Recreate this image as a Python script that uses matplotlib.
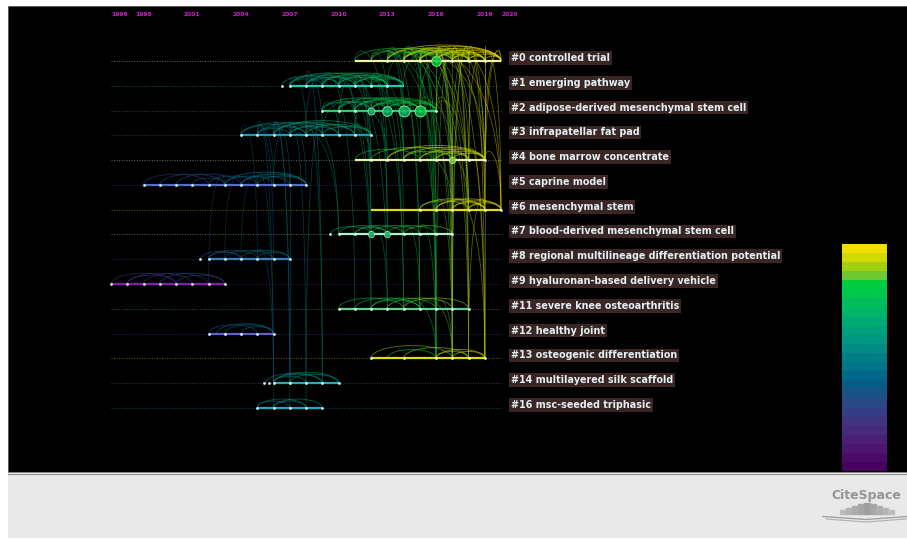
import numpy as np
import matplotlib
matplotlib.use('Agg')
import matplotlib.pyplot as plt
from matplotlib.collections import LineCollection
from matplotlib.colors import ListedColormap
from matplotlib.patches import Rectangle

# timeline view: clusters of co-cited references, 1996-2020

labels = ['#0 controlled trial', '#1 emerging pathway',
          '#2 adipose-derived mesenchymal stem cell', '#3 infrapatellar fat pad',
          '#4 bone marrow concentrate', '#5 caprine model', '#6 mesenchymal stem',
          '#7 blood-derived mesenchymal stem cell',
          '#8 regional multilineage differentiation potential',
          '#9 hyaluronan-based delivery vehicle', '#11 severe knee osteoarthritis',
          '#12 healthy joint', '#13 osteogenic differentiation',
          '#14 multilayered silk scaffold', '#16 msc-seeded triphasic']

start_year = [2011, 2007, 2009, 2004, 2011, 1998, 2012, 2010, 2002, 1996, 2010, 2002, 2012, 2006, 2005]
end_year = [2020, 2014, 2016, 2012, 2019, 2008, 2020, 2017, 2007, 2003, 2018, 2006, 2019, 2010, 2009]
line_colors = ['#f2f2a8', '#18cdb0', '#22d070', '#1a9cb4', '#e8f0b0', '#5070d0', '#e0e000',
               '#b0f0c8', '#3a80c8', '#8020b0', '#60d090', '#6060d0', '#e0e000', '#20b0b0', '#20a8c0']

nodes = [
    [2013, 2014, 2015, 2016, 2017, 2018, 2019],
    [2006.5, 2007, 2008, 2009, 2010, 2011, 2012, 2013],
    [2009, 2010, 2011, 2012, 2013, 2014, 2015, 2016],
    [2004, 2005, 2006, 2007, 2008, 2009, 2010, 2011, 2012],
    [2012, 2013, 2014, 2015, 2016, 2017, 2018, 2019],
    [1998, 1999, 2000, 2001, 2002, 2003, 2004, 2005, 2006, 2007, 2008],
    [2015, 2016, 2017, 2018, 2019, 2020],
    [2009.5, 2010, 2011, 2012, 2013, 2014, 2015, 2016, 2017],
    [2001.5, 2002, 2003, 2004, 2005, 2006, 2007],
    [1996, 1997, 1998, 1999, 2000, 2001, 2002, 2003],
    [2010, 2011, 2012, 2013, 2014, 2015, 2016, 2017, 2018],
    [2002, 2003, 2004, 2005, 2006],
    [2012, 2014, 2016, 2017, 2018, 2019],
    [2005.4, 2005.7, 2006, 2007, 2008, 2009, 2010],
    [2005, 2006, 2007, 2008, 2009],
]

# larger (highly cited) nodes: row, year, marker size
big_nodes = [(0, 2016, 7), (2, 2012, 5), (2, 2013, 7), (2, 2014, 8), (2, 2015, 8),
             (4, 2017, 4.5), (7, 2012, 4.5), (7, 2013, 4.5)]

# co-citation arcs inside a cluster: (start, end)
arcs = [
    [(2011, 2016), (2012, 2017), (2013, 2018), (2013, 2020), (2014, 2019), (2014, 2020),
     (2015, 2018), (2015, 2019), (2015, 2020), (2016, 2019), (2016, 2020), (2016, 2018),
     (2017, 2020), (2017, 2019), (2018, 2020), (2014, 2017), (2015, 2017), (2014, 2018),
     (2013, 2016), (2017, 2018), (2018, 2019), (2019, 2020)],
    [(2006.5, 2010), (2007, 2011), (2007, 2012), (2008, 2013), (2008, 2011), (2009, 2013),
     (2009, 2014), (2010, 2014), (2010, 2013), (2011, 2014), (2007, 2009), (2008, 2010),
     (2011, 2013), (2012, 2014)],
    [(2009, 2014), (2010, 2015), (2011, 2016), (2011, 2015), (2012, 2016), (2012, 2015),
     (2013, 2016), (2013, 2015), (2014, 2016), (2010, 2013), (2012, 2014), (2009, 2012)],
    [(2004, 2008), (2004, 2009), (2005, 2010), (2006, 2011), (2006, 2012), (2007, 2011),
     (2007, 2010), (2008, 2012), (2005, 2008), (2009, 2012), (2005, 2007)],
    [(2011, 2015), (2012, 2017), (2013, 2018), (2013, 2019), (2014, 2019), (2015, 2019),
     (2015, 2018), (2016, 2019), (2014, 2017), (2016, 2018), (2017, 2019)],
    [(1998, 2002), (1999, 2003), (2000, 2004), (2001, 2003), (2003, 2006), (2004, 2008),
     (2004, 2007), (2005, 2008), (2003, 2008), (2002, 2005)],
    [(2015, 2019), (2016, 2020), (2016, 2019), (2017, 2020), (2017, 2019), (2018, 2020),
     (2015, 2018), (2018, 2019)],
    [(2009.5, 2012), (2010, 2013), (2011, 2014), (2012, 2015), (2013, 2016), (2011, 2013),
     (2014, 2017)],
    [(2001.5, 2004), (2002, 2005), (2003, 2006), (2004, 2007), (2002, 2004), (2005, 2007)],
    [(1996, 2000), (1997, 2001), (1998, 2002), (1999, 2003), (1997, 2000), (2000, 2003)],
    [(2010, 2014), (2011, 2015), (2012, 2016), (2013, 2017), (2014, 2018), (2012, 2015)],
    [(2002, 2005), (2002.5, 2006), (2003, 2006), (2004, 2006)],
    [(2012, 2017), (2014, 2018), (2016, 2019), (2017, 2019), (2016, 2018), (2013, 2016)],
    [(2005.5, 2009), (2006, 2010), (2006, 2009), (2007, 2010), (2006, 2008)],
    [(2005, 2008), (2006, 2009), (2006, 2008), (2005, 2007)],
]

# links between clusters: (row a, year a, row b, year b)
cross_links = [
    (0, 2014, 4, 2016), (0, 2015, 4, 2017), (0, 2016, 4, 2018), (0, 2017, 4, 2019),
    (0, 2015, 6, 2018), (0, 2016, 6, 2019), (0, 2017, 6, 2020), (0, 2018, 6, 2019),
    (0, 2016, 12, 2017), (0, 2017, 12, 2018), (0, 2015, 12, 2016), (0, 2018, 12, 2019),
    (0, 2014, 10, 2016), (0, 2013, 10, 2015), (0, 2019, 6, 2020), (0, 2014, 2, 2015),
    (0, 2013, 2, 2014), (0, 2016, 2, 2016), (4, 2016, 6, 2018), (4, 2017, 12, 2017),
    (4, 2018, 12, 2019), (6, 2019, 12, 2018), (2, 2015, 4, 2017), (2, 2014, 4, 2015),
    (0, 2015, 7, 2016), (0, 2016, 10, 2017), (0, 2017, 10, 2018), (0, 2014, 12, 2016),
    (0, 2015, 4, 2015), (0, 2016, 4, 2016), (0, 2018, 4, 2018), (0, 2019, 4, 2019),
    (0, 2017, 6, 2017), (0, 2013, 4, 2014), (0, 2012, 2, 2013), (0, 2016, 7, 2017),
    (0, 2013, 6, 2017), (0, 2014, 6, 2018), (0, 2015, 6, 2020), (0, 2016, 6, 2017),
    (0, 2013, 4, 2017), (0, 2014, 4, 2019), (0, 2018, 4, 2017), (0, 2019, 4, 2018),
    (0, 2017, 12, 2016), (0, 2018, 12, 2017), (0, 2019, 12, 2019), (0, 2016, 12, 2019),
    (0, 2015, 10, 2018), (0, 2018, 10, 2017), (0, 2012, 4, 2016), (0, 2012, 6, 2016),
    (0, 2011, 4, 2013), (0, 2020, 6, 2019), (0, 2020, 4, 2019), (2, 2016, 6, 2018),
    (2, 2015, 12, 2017), (2, 2016, 12, 2018), (2, 2015, 0, 2017), (2, 2016, 0, 2018),
    (1, 2013, 0, 2015), (1, 2014, 0, 2016), (4, 2019, 6, 2020), (4, 2014, 6, 2017),
    (6, 2016, 12, 2017), (6, 2017, 12, 2019), (4, 2016, 10, 2017), (10, 2016, 12, 2017),
    (1, 2009, 2, 2011), (1, 2010, 2, 2012), (1, 2011, 2, 2013), (1, 2012, 4, 2014),
    (1, 2013, 2, 2014), (2, 2012, 7, 2013), (2, 2013, 7, 2014), (2, 2011, 10, 2013),
    (2, 2012, 10, 2014), (3, 2009, 2, 2011), (3, 2010, 1, 2011), (3, 2008, 1, 2009),
    (1, 2008, 3, 2009), (2, 2010, 4, 2013), (7, 2012, 10, 2013), (10, 2014, 12, 2016),
    (10, 2015, 12, 2017), (4, 2015, 10, 2016), (2, 2014, 10, 2015), (1, 2012, 10, 2014),
    (2, 2013, 4, 2014), (1, 2011, 4, 2012), (3, 2011, 2, 2012), (2, 2011, 7, 2012),
    (1, 2010, 4, 2012), (1, 2011, 7, 2012), (1, 2012, 7, 2013), (3, 2010, 4, 2012),
    (3, 2011, 10, 2012), (2, 2010, 10, 2012), (1, 2009, 10, 2011), (3, 2008, 7, 2010),
    (1, 2010, 3, 2011), (2, 2009, 3, 2010), (7, 2014, 10, 2015), (7, 2015, 12, 2016),
    (3, 2005, 5, 2006), (3, 2006, 5, 2007), (3, 2005, 8, 2006), (3, 2007, 13, 2008),
    (3, 2006, 14, 2007), (5, 2007, 13, 2007), (8, 2004, 5, 2005), (3, 2008, 13, 2009),
    (1, 2008, 13, 2009), (3, 2009, 14, 2008), (5, 2003, 9, 2002), (3, 2007, 7, 2010),
    (3, 2006, 13, 2007), (3, 2005, 14, 2006), (5, 2005, 13, 2006), (8, 2005, 13, 2006),
    (3, 2004, 8, 2005), (1, 2007, 3, 2008), (5, 2006, 3, 2007), (8, 2003, 5, 2004),
    (3, 2007, 5, 2008),
]

year_colors = ['#46005e', '#4a0a68', '#4c1670', '#4a2076', '#462a7c', '#3e3480', '#343e84',
               '#284886', '#1a5288', '#0a5c88', '#006888', '#007488', '#008086', '#008c84',
               '#009680', '#00a07a', '#00aa72', '#00b468', '#00bc5c', '#00c64c', '#00cc40',
               '#70c830', '#a0d010', '#d0da00', '#f0e000']

year_ticks = [1996, 1998, 2001, 2004, 2007, 2010, 2013, 2016, 2019, 2020]

PX_YEAR = 16.25   # pixels per year
PX_ROW = 24.78    # pixels per row


def ycolor(y):
    i = int(round(y)) - 1996
    return year_colors[max(0, min(24, i))]


fig = plt.figure(figsize=(9.07, 5.40), dpi=100, facecolor='white')
W, H = 907, 540

ax = fig.add_axes([8 / W, (H - 472) / H, 899 / W, 466 / H])
ax.set_facecolor('black')
ax.set_xlim(1996 - 103 / PX_YEAR, 1996 + 796 / PX_YEAR)
ax.set_ylim((472 - 61) / PX_ROW, (6 - 61) / PX_ROW)
ax.set_xticks([])
ax.set_yticks([])
for s in ax.spines.values():
    s.set_color('#707070')
    s.set_linewidth(0.6)

# dotted baselines
for r, c in enumerate(line_colors):
    ax.plot([1996, 2020], [r, r], color=c, lw=0.7, ls=(0, (1, 1.6)), alpha=0.45, zorder=1)

# links between clusters
t = np.linspace(0, 1, 40)[:, None]
segs, cols = [], []
for ra, ya, rb, yb in cross_links:
    top = min(ra, rb) - 0.5 - 0.075 * abs(ra - rb)
    p0, p1 = np.array([ya, ra]), np.array([ya, top])
    p2, p3 = np.array([yb, top]), np.array([yb, rb])
    pts = (1 - t) ** 3 * p0 + 3 * (1 - t) ** 2 * t * p1 + 3 * (1 - t) * t ** 2 * p2 + t ** 3 * p3
    segs.append(pts)
    cols.append(ycolor(max(ya, yb)))
ax.add_collection(LineCollection(segs, colors=cols, linewidths=0.55, alpha=0.45, zorder=2))

# arcs inside clusters
th = np.linspace(0, np.pi, 40)
segs, cols = [], []
for r, lst in enumerate(arcs):
    for a, b in lst:
        span_px = (b - a) * PX_YEAR
        h = min(3 + 0.12 * span_px, 16) / PX_ROW
        xs = (a + b) / 2 + (b - a) / 2 * np.cos(th)
        ys = r - h * np.sin(th)
        segs.append(np.column_stack([xs, ys]))
        cols.append(ycolor(b))
ax.add_collection(LineCollection(segs, colors=cols, linewidths=0.7, alpha=0.55, zorder=3))

# solid cluster spans and nodes
for r in range(len(labels)):
    ax.plot([start_year[r], end_year[r]], [r, r], color=line_colors[r], lw=1.6, zorder=4,
            solid_capstyle='butt')
    ax.plot(nodes[r], [r] * len(nodes[r]), 'o', color='white', ms=2.0, mew=0, alpha=0.9, zorder=5)

for r, y, s in big_nodes:
    ax.plot(y, r, 'o', ms=s, mfc=ycolor(y), mec='#c8f0a0', mew=0.6, alpha=0.85, zorder=6)

# cluster labels
for r, lab in enumerate(labels):
    ax.text(1996 + 400 / PX_YEAR, r - 0.12, lab, color='#e2f0f4', fontsize=6.9,
            fontweight='bold', family='DejaVu Sans', va='center', ha='left', zorder=7,
            bbox=dict(facecolor='#3b2626', edgecolor='none', pad=1.3))

# year labels along the top
for yr in year_ticks:
    ha = 'left' if yr in (1996, 2020) else 'center'
    ax.text(yr, (14 - 61) / PX_ROW, str(yr), color='#cc22cc', fontsize=4.3,
            fontweight='bold', ha=ha, va='center')

# year colour strip
cax = fig.add_axes([842 / W, (H - 471) / H, 45 / W, 227 / H])
cax.imshow(np.arange(len(year_colors))[::-1].reshape(-1, 1), cmap=ListedColormap(year_colors),
           aspect='auto', interpolation='nearest')
cax.set_axis_off()

# footer with logo
fax = fig.add_axes([8 / W, (H - 538) / H, 899 / W, 65 / H])
fax.set_facecolor('#e9e9e9')
fax.set_xlim(8, 907)
fax.set_ylim(538, 473)
fax.set_xticks([])
fax.set_yticks([])
for s in fax.spines.values():
    s.set_visible(False)
fax.axhline(473.5, color='#909090', lw=0.8)
fax.text(866, 495, 'CiteSpace', color='#959595', fontsize=9.0, fontweight='bold',
         ha='center', va='center')
bar_h = [4, 6, 8, 10, 11, 10, 8, 6, 4]
for i, bh in enumerate(bar_h):
    g = 0.62 + 0.03 * abs(i - 4)
    fax.add_patch(Rectangle((840 + i * 6, 514 - bh), 5.5, bh, color=(g, g, g)))
fax.plot([823, 866, 908], [516.5, 519.5, 516.5], color='#a0a0a0', lw=1.0)
fax.plot([826, 866, 906], [519, 522, 519], color='#b0b0b0', lw=0.8)

fig.savefig('out.png', dpi=100, facecolor='white')
